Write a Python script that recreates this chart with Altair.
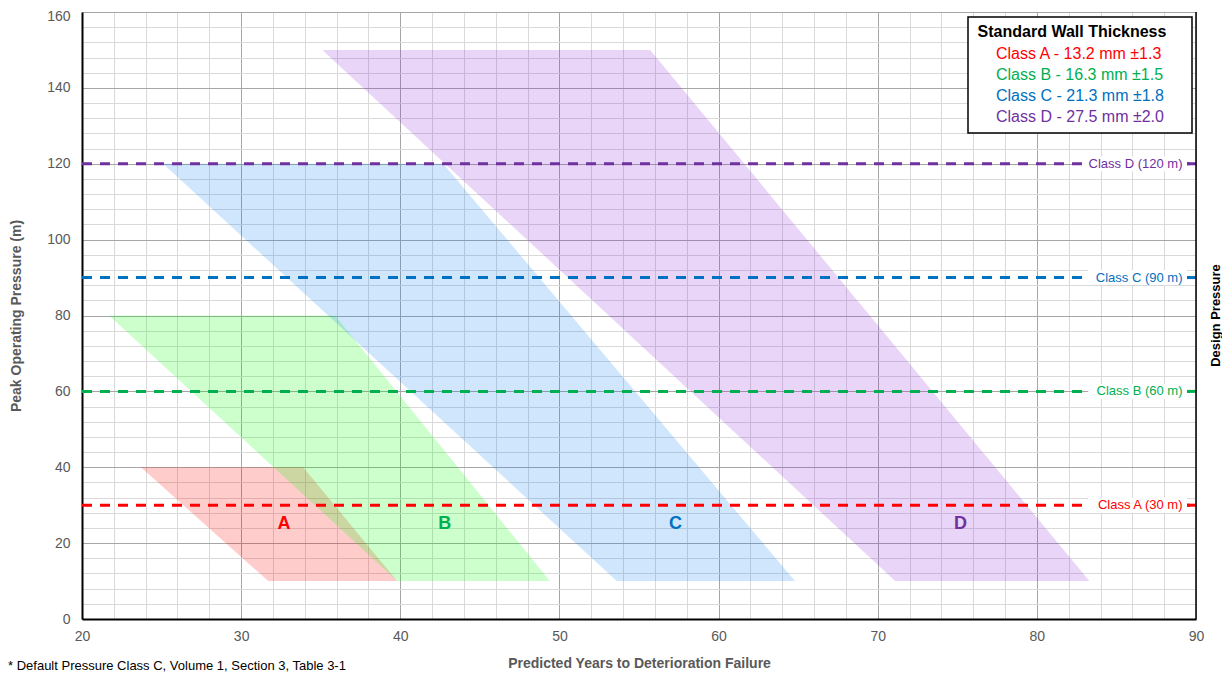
import altair as alt
import pandas as pd

# ---- data ----
classes = ["A", "B", "C", "D"]
bottom_y = [10, 10, 10, 10]
top_y = [40, 80, 120, 150]
top_left = [23.7, 21.7, 25.1, 35.1]
top_right = [33.9, 35.9, 42.7, 55.7]
bot_left = [31.7, 39.8, 53.6, 71.1]
bot_right = [39.8, 49.4, 64.8, 83.3]
letter_x = [32.7, 42.8, 57.3, 75.2]
letter_y = [25, 25, 25, 25]

design_values = [30, 60, 90, 120]
design_labels = ["Class A (30 m)", "Class B (60 m)", "Class C (90 m)", "Class D (120 m)"]

legend_title = "Standard Wall Thickness"
legend_lines = ["Class A - 13.2 mm ±1.3", "Class B - 16.3 mm ±1.5",
                "Class C - 21.3 mm ±1.8", "Class D - 27.5 mm ±2.0"]

x_title = "Predicted Years to Deterioration Failure"
y_title = "Peak Operating Pressure (m)"
right_title = "Design Pressure"
footnote = "* Default Pressure Class C, Volume 1, Section 3, Table 3-1"

# ---- styles ----
text_colors = ["#FF0000", "#00B050", "#0070C0", "#7030A0"]
fill_colors = ["#FF0000", "#00FF00", "#0F82F0", "#8C2DDC"]
FONT = "Liberation Sans, Arial, sans-serif"
W, H = 1114, 607

area_rows = []
for c, by, ty, tl, tr, bl, br in zip(classes, bottom_y, top_y, top_left, top_right, bot_left, bot_right):
    area_rows.append({"cls": c, "y": by, "xl": bl, "xr": br})
    area_rows.append({"cls": c, "y": ty, "xl": tl, "xr": tr})
area_df = pd.DataFrame(area_rows)
letters_df = pd.DataFrame({"cls": classes, "x": letter_x, "y": letter_y})
design_df = pd.DataFrame({"cls": classes, "v": design_values, "label": design_labels})
legend_df = pd.DataFrame({"cls": classes, "t": legend_lines, "i": [0, 1, 2, 3]})

xscale = alt.Scale(domain=[20, 90], nice=False, zero=False)
yscale = alt.Scale(domain=[0, 160], nice=False, zero=False)

major_x = "datum.value % 10 === 0"
major_y = "datum.value % 20 === 0"

x_axis = alt.Axis(
    values=list(range(20, 91, 2)),
    labelExpr=f"{major_x} ? datum.label : ''",
    ticks=False, grid=True,
    gridColor={"condition": {"test": major_x, "value": "#A6A6A6"}, "value": "#D9D9D9"},
    gridWidth=1,
    domainColor="black", domainWidth=2,
    labelFontSize=14, labelColor="#595959", labelPadding=10,
    labelFlush=False, labelOverlap=False, labelFont=FONT,
    title=x_title, titleFontSize=14, titleColor="#595959", titleFontWeight="bold",
    titleFont=FONT, titleY=44, titleBaseline="middle",
)
y_axis = alt.Axis(
    values=list(range(0, 161, 4)),
    labelExpr=f"{major_y} ? datum.label : ''",
    ticks=False, grid=True,
    gridColor={"condition": {"test": major_y, "value": "#A6A6A6"}, "value": "#D9D9D9"},
    gridWidth=1,
    domainColor="black", domainWidth=2,
    labelFontSize=14, labelColor="#595959", labelPadding=12,
    labelOffset={"condition": {"test": "datum.value === 160", "value": 4}, "value": 0},
    labelOverlap=False, labelFont=FONT,
    title=y_title, titleFontSize=14, titleColor="#595959", titleFontWeight="bold",
    titleFont=FONT, titleX=-66, titleY=H / 2, titleAngle=270, titleBaseline="middle",
)

areas = alt.Chart(area_df).mark_area(orient="horizontal", opacity=0.2).encode(
    y=alt.Y("y:Q", scale=yscale, axis=y_axis),
    x=alt.X("xl:Q", scale=xscale, axis=x_axis),
    x2="xr:Q",
    fill=alt.Fill("cls:N", scale=alt.Scale(domain=classes, range=fill_colors), legend=None),
)

dashed = alt.Chart(design_df).mark_rule(strokeDash=[10, 8], strokeWidth=3, strokeCap="butt").encode(
    y=alt.Y("v:Q", scale=yscale, axis=y_axis),
    x=alt.value(0), x2=alt.value(W),
    color=alt.Color("cls:N", scale=alt.Scale(domain=classes, range=text_colors), legend=None),
)

label_bg = alt.Chart(design_df).transform_calculate(
    bx="89.15 - (length(datum.label) * 6.3 + 6) / 15.914"
).mark_rule(color="white", strokeWidth=15, strokeCap="butt").encode(
    y=alt.Y("v:Q", scale=yscale, axis=y_axis),
    x=alt.X("bx:Q", scale=xscale, axis=x_axis),
    x2=alt.value(W - 9),
)

tail = alt.Chart(design_df).mark_rule(strokeWidth=3, strokeCap="butt").encode(
    y=alt.Y("v:Q", scale=yscale, axis=y_axis),
    x=alt.value(W - 9), x2=alt.value(W),
    color=alt.Color("cls:N", scale=alt.Scale(domain=classes, range=text_colors), legend=None),
)

label_txt = alt.Chart(design_df).mark_text(align="right", baseline="middle", fontSize=13, font=FONT).encode(
    y=alt.Y("v:Q", scale=yscale, axis=y_axis),
    x=alt.value(W - 13.5),
    text="label:N",
    color=alt.Color("cls:N", scale=alt.Scale(domain=classes, range=text_colors), legend=None),
)

letters = alt.Chart(letters_df).mark_text(fontSize=18, fontWeight="bold", baseline="middle", font=FONT).encode(
    x=alt.X("x:Q", scale=xscale, axis=x_axis),
    y=alt.Y("y:Q", scale=yscale, axis=y_axis),
    text="cls:N",
    color=alt.Color("cls:N", scale=alt.Scale(domain=classes, range=text_colors), legend=None),
)

right_border = alt.Chart(pd.DataFrame({"k": [0]})).mark_rule(color="black", strokeWidth=1.5).encode(
    x=alt.value(W), y=alt.value(0), y2=alt.value(H)
)

right_text = alt.Chart(pd.DataFrame({"t": [right_title]})).mark_text(
    angle=270, fontSize=13, fontWeight="bold", color="black", baseline="middle", font=FONT
).encode(text="t:N", x=alt.value(W + 20), y=alt.value(H / 2))

legend_box = alt.Chart(pd.DataFrame({"k": [0]})).mark_rect(fill="white", stroke="black", strokeWidth=1.5).encode(
    x=alt.value(886), x2=alt.value(1110), y=alt.value(5), y2=alt.value(121)
)

legend_head = alt.Chart(pd.DataFrame({"t": [legend_title]})).mark_text(
    fontSize=16, fontWeight="bold", color="black", align="center", baseline="middle", font=FONT
).encode(text="t:N", x=alt.value(990), y=alt.value(19.5))

legend_items = alt.Chart(legend_df).transform_calculate(
    py="41.5 + datum.i * 21.3"
).mark_text(fontSize=16, align="left", baseline="middle", font=FONT).encode(
    text="t:N",
    x=alt.value(914),
    y=alt.Y("py:Q", scale=None),
    color=alt.Color("cls:N", scale=alt.Scale(domain=classes, range=text_colors), legend=None),
)

foot = alt.Chart(pd.DataFrame({"t": [footnote]})).mark_text(
    fontSize=13, color="black", align="left", baseline="middle", font=FONT
).encode(text="t:N", x=alt.value(-74), y=alt.value(654))

chart = alt.layer(
    areas, dashed, label_bg, tail, label_txt, letters, right_border,
    legend_box, legend_head, legend_items, right_text, foot
).resolve_scale(
    color="independent", fill="independent"
).properties(
    width=W, height=H,
    padding={"left": 74, "top": 4, "right": 26, "bottom": 53},
    autosize=alt.AutoSizeParams(type="none"),
).configure_view(stroke=None).configure(font=FONT)

chart.save("out.html", embed_options={"renderer": "svg", "actions": False})
